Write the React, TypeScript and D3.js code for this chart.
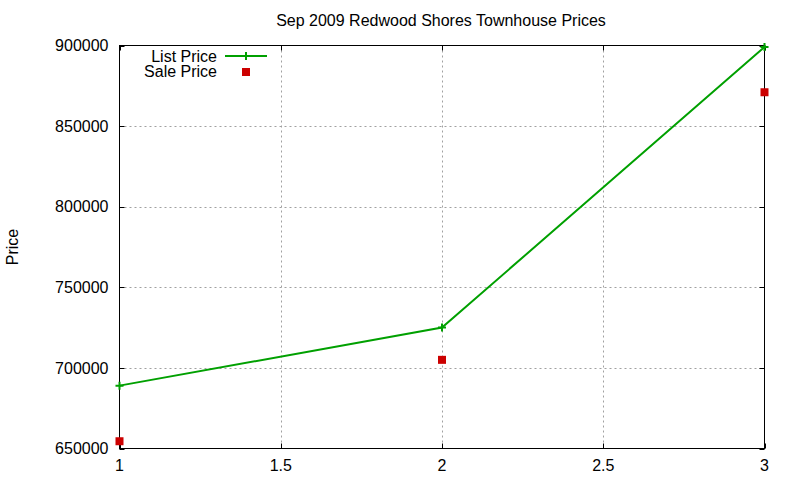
import { useEffect, useRef } from "react";
import * as d3 from "d3";

const xValues = [1, 2, 3];
const listPrice = [689000, 725000, 899000];
const salePrice = [654500, 705000, 871000];
const xTicks = [1, 1.5, 2, 2.5, 3];
const yTicks = [650000, 700000, 750000, 800000, 850000, 900000];

const width = 800;
const height = 480;

const App = () => {
    const svgRef = useRef<SVGSVGElement>(null);

    useEffect(() => {
        if (!svgRef.current) return;
        const svg = d3.select(svgRef.current);
        svg.selectAll("*").remove();

        const margin = { top: 45.5, right: 35.5, bottom: 31.5, left: 119.5 };
        const x = d3.scaleLinear().domain([1, 3]).range([margin.left, width - margin.right]);
        const y = d3.scaleLinear().domain([650000, 900000]).range([height - margin.bottom, margin.top]);
        const font = "'Liberation Sans', Arial, sans-serif";
        const fs = "16px";

        svg.append("rect").attr("width", width).attr("height", height).attr("fill", "#fff");

        // grid
        const grid = svg.append("g").attr("stroke", "#a0a0a0").attr("stroke-width", 1).attr("stroke-dasharray", "2,3");
        grid.selectAll("line.gx")
            .data(xTicks.slice(1, -1))
            .enter().append("line")
            .attr("x1", d => Math.round(x(d)) + 0.5).attr("x2", d => Math.round(x(d)) + 0.5)
            .attr("y1", y(900000)).attr("y2", y(650000));
        grid.selectAll("line.gy")
            .data(yTicks.slice(1, -1))
            .enter().append("line")
            .attr("x1", x(1)).attr("x2", x(3))
            .attr("y1", d => Math.round(y(d)) + 0.5).attr("y2", d => Math.round(y(d)) + 0.5);

        // tick marks (inward, mirrored)
        const ticks = svg.append("g").attr("stroke", "#000").attr("stroke-width", 1);
        xTicks.forEach(t => {
            const px = Math.round(x(t)) + 0.5;
            ticks.append("line").attr("x1", px).attr("x2", px).attr("y1", y(650000)).attr("y2", y(650000) - 5);
            ticks.append("line").attr("x1", px).attr("x2", px).attr("y1", y(900000)).attr("y2", y(900000) + 5);
        });
        yTicks.forEach(t => {
            const py = Math.round(y(t)) + 0.5;
            ticks.append("line").attr("x1", x(1)).attr("x2", x(1) + 5).attr("y1", py).attr("y2", py);
            ticks.append("line").attr("x1", x(3)).attr("x2", x(3) - 5).attr("y1", py).attr("y2", py);
        });

        // border
        svg.append("rect")
            .attr("x", x(1)).attr("y", y(900000))
            .attr("width", x(3) - x(1)).attr("height", y(650000) - y(900000))
            .attr("fill", "none").attr("stroke", "#000").attr("stroke-width", 1);

        // tick labels
        svg.append("g").selectAll("text")
            .data(yTicks)
            .enter().append("text")
            .attr("x", x(1) - 11).attr("y", d => y(d))
            .attr("dy", "0.36em").attr("text-anchor", "end")
            .style("font-family", font).style("font-size", fs)
            .text(d => String(d));
        svg.append("g").selectAll("text")
            .data(xTicks)
            .enter().append("text")
            .attr("x", d => x(d)).attr("y", y(650000) + 22)
            .attr("text-anchor", "middle")
            .style("font-family", font).style("font-size", fs)
            .text(d => String(d));

        // title and axis label
        svg.append("text")
            .attr("x", 441).attr("y", 26)
            .attr("text-anchor", "middle")
            .style("font-family", font).style("font-size", fs)
            .text("Sep 2009 Redwood Shores Townhouse Prices");
        svg.append("text")
            .attr("transform", `translate(18,247) rotate(-90)`)
            .attr("text-anchor", "middle")
            .style("font-family", font).style("font-size", fs)
            .text("Price");

        const green = "#00a000";
        const red = "#cc0000";

        const line = d3.line<number>()
            .x((_, i) => x(xValues[i]))
            .y(d => y(d));

        svg.append("path")
            .datum(listPrice)
            .attr("fill", "none").attr("stroke", green).attr("stroke-width", 2)
            .attr("d", line);

        const cross = (g: d3.Selection<SVGGElement, unknown, null, undefined>, cx: number, cy: number) => {
            g.append("path")
                .attr("d", `M${cx - 4},${cy}H${cx + 4}M${cx},${cy - 4}V${cy + 4}`)
                .attr("stroke", green).attr("stroke-width", 2).attr("fill", "none");
        };
        const pts = svg.append("g");
        listPrice.forEach((v, i) => cross(pts, x(xValues[i]), y(v)));

        svg.append("g").selectAll("rect")
            .data(salePrice)
            .enter().append("rect")
            .attr("x", (_, i) => x(xValues[i]) - 4)
            .attr("y", d => y(d) - 4)
            .attr("width", 8).attr("height", 8)
            .attr("fill", red);

        // legend
        const legend = svg.append("g");
        legend.append("text")
            .attr("x", 217).attr("y", 56).attr("dy", "0.36em")
            .attr("text-anchor", "end")
            .style("font-family", font).style("font-size", fs)
            .text("List Price");
        legend.append("line")
            .attr("x1", 225).attr("x2", 267).attr("y1", 56).attr("y2", 56)
            .attr("stroke", green).attr("stroke-width", 2);
        cross(legend, 246, 56);
        legend.append("text")
            .attr("x", 217).attr("y", 71).attr("dy", "0.36em")
            .attr("text-anchor", "end")
            .style("font-family", font).style("font-size", fs)
            .text("Sale Price");
        legend.append("rect")
            .attr("x", 242).attr("y", 68).attr("width", 8).attr("height", 8)
            .attr("fill", red);
    }, []);

    return (
        <div style={{ position: "fixed", left: 0, top: 0 }}>
            <svg ref={svgRef} width={width} height={height} style={{ display: "block" }} />
        </div>
    );
};

export default App;
